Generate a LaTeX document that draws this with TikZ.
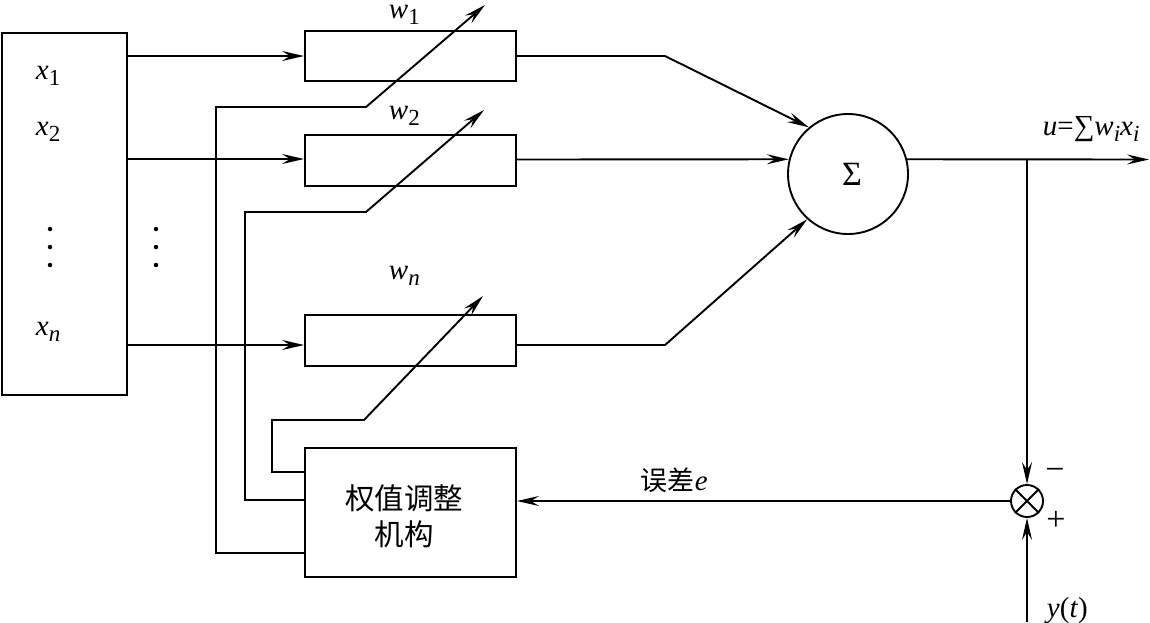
\documentclass[tikz,border=0pt]{standalone}
\usepackage{fontspec}
\setmainfont{Liberation Serif}
\newfontfamily\cjk{Noto Sans CJK SC}
\usetikzlibrary{arrows.meta}
\newcommand{\vsub}[2]{\textit{#1}\raisebox{-6pt}{\fontsize{23}{23}\selectfont #2}}
\begin{document}
\begin{tikzpicture}[x=1pt,y=-1pt,
  line width=1.9pt,
  tip/.style={-{Stealth[length=22pt,width=10pt,inset=8pt]}},
  blk/.style={draw,rectangle,inner sep=0pt,line width=1.9pt},
  lab/.style={inner sep=0pt,anchor=base west,font=\fontsize{29}{29}\selectfont},
  sign/.style={inner sep=0pt,font=\fontsize{34}{34}\selectfont},
  dotm/.style={fill,circle,inner sep=0pt,minimum size=4.5pt},
]
\useasboundingbox (0,0) rectangle (1150,622);

% blocks
\node[blk,minimum width=125pt,minimum height=362pt] (inbox) at (64.5,214) {};
\node[blk,minimum width=211pt,minimum height=50pt] (w1) at (410.5,56) {};
\node[blk,minimum width=211pt,minimum height=51pt] (w2) at (410.5,160.5) {};
\node[blk,minimum width=211pt,minimum height=51pt] (wn) at (410.5,340.5) {};
\node[blk,minimum width=211pt,minimum height=129pt] (adj) at (410.5,512.5) {};
\node[inner sep=0pt,align=center,font=\cjk\fontsize{29.5}{36}\selectfont] (adjtext) at (404,516) {权值调整\\机构};
\node[draw,circle,inner sep=0pt,minimum size=120pt] (sum) at (848,174) {};
\node[sign] (sigma) at (852,174) {Σ};
\node[draw,circle,inner sep=0pt,minimum size=32pt] (cmp) at (1027,501) {};
\draw (cmp.45) -- (cmp.225) (cmp.135) -- (cmp.315);

% input labels
\node[lab] (lx1) at (35,79) {\vsub{x}{1}};
\node[lab] (lx2) at (35,135) {\vsub{x}{2}};
\node[lab] (lxn) at (35,335) {\vsub{x}{\textit{n}}};
\node[dotm] (d1) at (50,229) {};
\node[dotm] (d2) at (50,247) {};
\node[dotm] (d3) at (50,265) {};
\node[dotm] (d4) at (156,229) {};
\node[dotm] (d5) at (156,247) {};
\node[dotm] (d6) at (156,265) {};

% weight labels
\node[lab] (lw1) at (388,18) {\vsub{w}{1}};
\node[lab] (lw2) at (388,119) {\vsub{w}{2}};
\node[lab] (lwn) at (388,279) {\vsub{w}{\textit{n}}};

% inputs to weights
\draw[tip] (w1.west -| inbox.east) -- (w1.west);
\draw[tip] (inbox.east |- 0,159) -- (w2.west |- 0,159);
\draw[tip] (inbox.east |- 0,345) -- (wn.west |- 0,345);

% weights to sum
\coordinate (k1) at (665,56);
\coordinate (kn) at (665,345);
\draw[tip] (w1.east) -- (k1) -- (sum.130);
\draw[tip] (w2.east |- 0,159.5) -- (sum.166);
\draw[tip] (wn.east |- kn) -- (kn) -- (sum.228);

% output
\coordinate (out) at (1149,159.5);
\coordinate (br) at (1027,159.5);
\draw[tip] (sum.14) -- (out);
\node[lab] (lu) at (1042,135) {\textit{u}=∑\vsub{w}{\textit{i}}\vsub{x}{\textit{i}}};
\draw[tip] (br) -- (cmp.north);
\coordinate (yin) at (1027,622);
\draw[tip] (yin) -- (cmp.south);
\node[sign] (lminus) at (1055,474) {−};
\node[sign] (lplus) at (1056,521) {+};
\node[lab] (ly) at (1046,617) {\textit{y}(\textit{t})};

% error
\draw[tip] (cmp.west) -- (cmp.west -| adj.east);
\node[inner sep=0pt,anchor=base west,font=\fontsize{29}{29}\selectfont] (le) at (640,490) {{\cjk\fontsize{27}{27}\selectfont 误差}\textit{e}};

% adjustment paths
\draw[tip] (adj.west |- 0,472) -- (272,472) -- (272,420) -- (364,420) -- (483,296);
\draw[tip] (adj.west |- 0,500) -- (245,500) -- (245,212) -- (366,212) -- (484,110);
\draw[tip] (adj.west |- 0,553) -- (216,553) -- (216,107) -- (366,107) -- (485,5);
\end{tikzpicture}
\end{document}
